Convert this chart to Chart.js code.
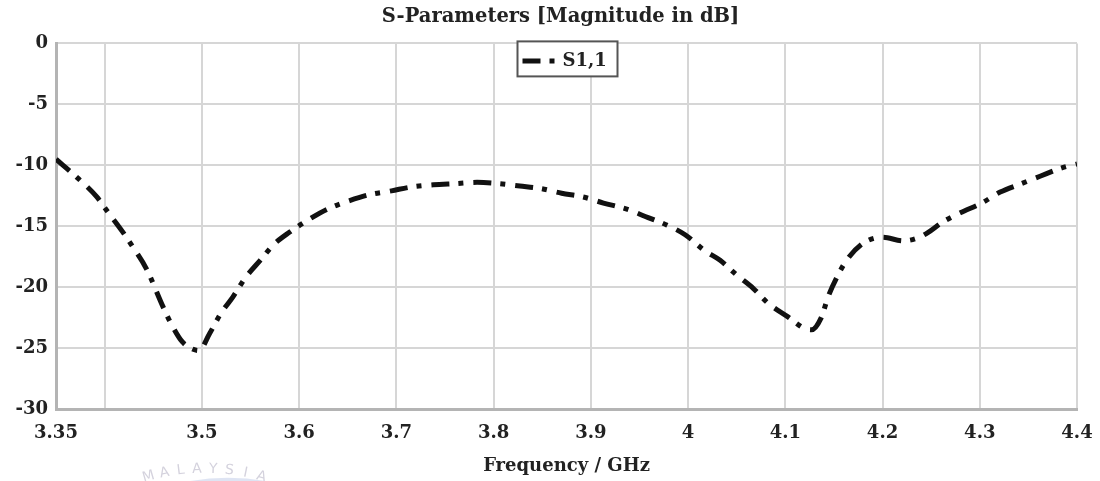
<!DOCTYPE html>
<html><head><meta charset="utf-8">
<script src="https://cdn.jsdelivr.net/npm/chart.js@4.4.0/dist/chart.umd.min.js"></script>
<style>html,body{margin:0;padding:0;background:#fff;overflow:hidden}#wrap{width:1100px;height:481px;position:relative}</style>
</head><body><div id="wrap"><canvas id="c" width="1100" height="481"></canvas></div>
<script>
const chartTitle = 'S-Parameters [Magnitude in dB]';
const xAxisTitle = 'Frequency / GHz';
const seriesLabel = 'S1,1';
const watermarkText = 'MALAYSIA';

const freqGHz = [3.35, 3.373, 3.392, 3.403, 3.418, 3.429, 3.443, 3.46, 3.469, 3.48, 3.491, 3.497,
  3.508, 3.52, 3.532, 3.545, 3.56, 3.574, 3.59, 3.611, 3.629, 3.652, 3.673, 3.695, 3.714, 3.738,
  3.762, 3.783, 3.805, 3.827, 3.848, 3.87, 3.892, 3.913, 3.937, 3.956, 3.978, 3.997, 4.017, 4.033,
  4.05, 4.067, 4.082, 4.102, 4.12, 4.127, 4.137, 4.144, 4.153, 4.163, 4.18, 4.2, 4.221, 4.235,
  4.247, 4.261, 4.28, 4.302, 4.321, 4.343, 4.362, 4.385, 4.4];
const s11dB = [-9.5, -11.1, -12.6, -13.8, -15.4, -16.7, -18.5, -21.6, -23.1, -24.5, -25.1, -25.2,
  -23.8, -22.1, -20.8, -19.2, -17.8, -16.5, -15.5, -14.4, -13.6, -12.9, -12.4, -12.1, -11.8, -11.6,
  -11.5, -11.4, -11.5, -11.7, -11.9, -12.3, -12.6, -13.1, -13.6, -14.2, -14.9, -15.7, -17.0, -17.8,
  -19.0, -20.1, -21.3, -22.4, -23.4, -23.5, -22.5, -20.8, -19.2, -17.8, -16.4, -15.9, -16.2, -16.0,
  -15.5, -14.7, -13.9, -13.1, -12.2, -11.5, -10.9, -10.2, -9.9];

const xTicks = [3.35, 3.4, 3.5, 3.6, 3.7, 3.8, 3.9, 4.0, 4.1, 4.2, 4.3, 4.4];
const xTickLabels = ['3.35', '', '3.5', '3.6', '3.7', '3.8', '3.9', '4', '4.1', '4.2', '4.3', '4.4'];
const yTicks = [0, -5, -10, -15, -20, -25, -30];
const yTickLabels = ['0', '-5', '-10', '-15', '-20', '-25', '-30'];

const FONT = '"DejaVu Serif", "Liberation Serif", serif';
const TXT = '#222';
const GRID = '#d6d6d6';
const BORDER = '#b4b4b4';
const DASH = [18, 9, 5, 10];

const shiftTitle = {
  id: 'shiftTitle',
  afterLayout(chart) {
    if (chart.titleBlock) chart.titleBlock.left += 44;
  }
};

const boxLegend = {
  id: 'boxLegend',
  afterDraw(chart) {
    const ctx = chart.ctx, ca = chart.chartArea;
    const ds = chart.data.datasets[0];
    const w = 100, h = 35;
    const x0 = (ca.left + ca.right) / 2 - w / 2 + 1;
    const y0 = ca.top - 2;
    ctx.save();
    ctx.fillStyle = '#fff';
    ctx.fillRect(x0, y0, w, h);
    ctx.strokeStyle = '#555';
    ctx.lineWidth = 2;
    ctx.strokeRect(x0, y0, w, h);
    const cy = y0 + h / 2 + 2;
    ctx.strokeStyle = ds.borderColor;
    ctx.lineWidth = ds.borderWidth;
    ctx.setLineDash(ds.borderDash);
    ctx.beginPath();
    ctx.moveTo(x0 + 5, cy);
    ctx.lineTo(x0 + 38, cy);
    ctx.stroke();
    ctx.setLineDash([]);
    ctx.fillStyle = TXT;
    ctx.font = 'bold 18px ' + FONT;
    ctx.textBaseline = 'middle';
    ctx.textAlign = 'left';
    ctx.fillText(ds.label, x0 + 45, cy);
    ctx.restore();
  }
};

const watermark = {
  id: 'watermark',
  afterDraw(chart) {
    const ctx = chart.ctx;
    const cx = 205, cy = 659, r = 197;
    ctx.save();
    ctx.fillStyle = 'rgba(160,155,180,0.45)';
    ctx.font = '14px "DejaVu Sans", sans-serif';
    ctx.textAlign = 'center';
    ctx.textBaseline = 'bottom';
    const letters = watermarkText.split('');
    const span = 0.56;
    letters.forEach((ch, i) => {
      const a = -span / 2 + span * i / (letters.length - 1);
      ctx.save();
      ctx.translate(cx + r * Math.sin(a), cy - r * Math.cos(a) + 14);
      ctx.rotate(a);
      ctx.fillText(ch, 0, 0);
      ctx.restore();
    });
    ctx.strokeStyle = 'rgba(200,210,235,0.6)';
    ctx.lineWidth = 4;
    ctx.beginPath();
    ctx.arc(228, 705, 225, -Math.PI / 2 - 0.3, -Math.PI / 2 + 0.3);
    ctx.stroke();
    ctx.restore();
  }
};

new Chart(document.getElementById('c'), {
  type: 'line',
  data: {
    datasets: [{
      label: seriesLabel,
      data: freqGHz.map((x, i) => ({ x: x, y: s11dB[i] })),
      borderColor: '#111',
      borderWidth: 5,
      borderDash: DASH,
      pointRadius: 0,
      fill: false,
      cubicInterpolationMode: 'monotone'
    }]
  },
  options: {
    responsive: false,
    devicePixelRatio: 1,
    animation: false,
    layout: { padding: { left: 0, right: 23, top: 0, bottom: 0 } },
    plugins: {
      legend: { display: false },
      tooltip: { enabled: false },
      title: {
        display: true,
        text: chartTitle,
        color: TXT,
        font: { family: FONT, size: 19.5, weight: 'bold' },
        padding: { top: 5, bottom: 15 }
      }
    },
    scales: {
      x: {
        type: 'linear',
        min: 3.35,
        max: 4.4,
        afterBuildTicks: s => { s.ticks = xTicks.map(v => ({ value: v })); },
        afterFit: s => { s.height = 72; s.paddingLeft = 0; s.paddingRight = 0; },
        ticks: {
          autoSkip: false,
          maxRotation: 0,
          padding: 14,
          color: TXT,
          font: { family: FONT, size: 18, weight: 'bold' },
          callback: (v, i) => xTickLabels[i]
        },
        grid: { color: GRID, lineWidth: 2, drawTicks: false },
        border: { color: BORDER, width: 3 },
        title: {
          display: true,
          text: xAxisTitle,
          color: TXT,
          font: { family: FONT, size: 18, weight: 'bold' },
          padding: { top: 0, bottom: 4 }
        }
      },
      y: {
        type: 'linear',
        min: -30,
        max: 0,
        afterBuildTicks: s => { s.ticks = yTicks.map(v => ({ value: v })); },
        afterFit: s => { s.width = 56; },
        ticks: {
          padding: 8,
          color: TXT,
          font: { family: FONT, size: 18, weight: 'bold' },
          callback: (v, i) => yTickLabels[i]
        },
        grid: { color: GRID, lineWidth: 2, drawTicks: false },
        border: { color: BORDER, width: 3 }
      }
    }
  },
  plugins: [shiftTitle, boxLegend, watermark]
});
</script>
</body></html>
